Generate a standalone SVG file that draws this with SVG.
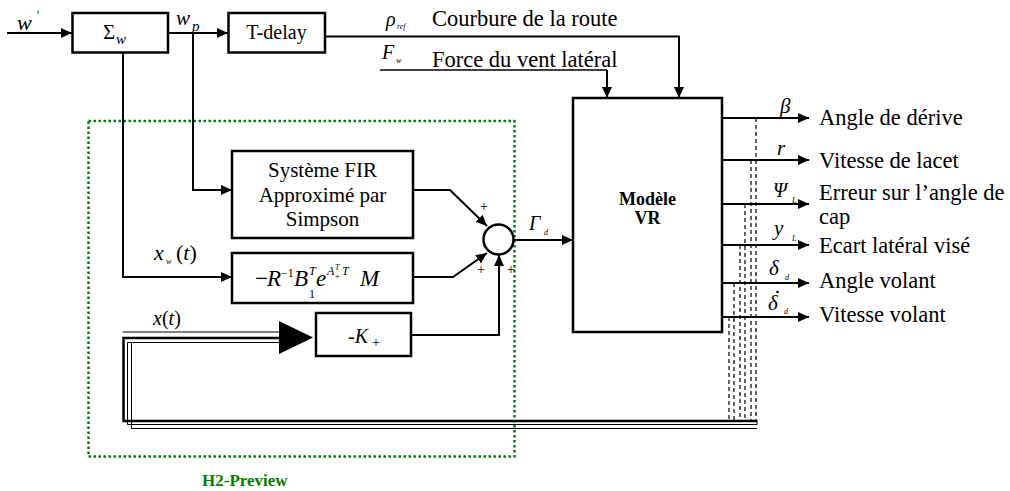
<svg xmlns="http://www.w3.org/2000/svg" width="1010" height="491" viewBox="0 0 1010 491">
<defs>
<marker id="ah" markerUnits="userSpaceOnUse" markerWidth="11" markerHeight="10" refX="11" refY="5" orient="auto"><path d="M0,0 L11,5 L0,10 z" fill="#000"/></marker>
<style>
text{font-family:"Liberation Serif","Times New Roman",serif;fill:#000}
.box{fill:#fff;stroke:#000;stroke-width:2.5}
.ln{fill:none;stroke:#000;stroke-width:2}
.ar{marker-end:url(#ah)}
.dash{fill:none;stroke:#000;stroke-width:1.2;stroke-dasharray:4 3}
.lbl{font-size:22.5px}
.it{font-style:italic}
.bt{font-size:21px;text-anchor:middle}
</style>
</defs>
<rect width="1010" height="491" fill="#fff"/>

<g id="preview-frame">
<rect x="88.5" y="121" width="426" height="335.5" fill="none" stroke="#008000" stroke-width="2.5" stroke-dasharray="2.5 2.5"/>
<text x="202" y="486" font-size="17" font-weight="bold" style="fill:#008000">H2-Preview</text>
</g>

<g id="connectors">
<path class="ln ar" d="M7 33 H72"/>
<path class="ln ar" d="M168 33 H228"/>
<path class="ln ar" d="M325 36.5 H679 V98"/>
<path fill="none" stroke="#000" stroke-width="1.3" d="M380 70 H607"/>
<path class="ln ar" d="M607 70 V98"/>
<path class="ln ar" d="M123 53 V277 H232"/>
<path class="ln ar" d="M193 33 V190 H232"/>
<path class="ln ar" d="M413 190 H450 L487 226"/>
<path class="ln ar" d="M413 277 H453 L487 253"/>
<path class="ln ar" d="M411 335 H499 V255"/>
<path class="ln ar" d="M513 240 H573"/>
<path class="ln ar" d="M722 118 H809"/>
<path class="ln ar" d="M722 160 H809"/>
<path class="ln ar" d="M722 204 H809"/>
<path class="ln ar" d="M722 245 H809"/>
<path class="ln ar" d="M722 283 H809"/>
<path class="ln ar" d="M722 317 H809"/>
<path class="dash" d="M756 118 V420"/>
<path class="dash" d="M751 160 V420"/>
<path class="dash" d="M745 204 V420"/>
<path class="dash" d="M740 245 V420"/>
<path class="dash" d="M734 283 V420"/>
<path class="dash" d="M729 317 V420"/>
<path fill="none" stroke="#000" stroke-width="2.5" d="M280 338 H123.5 V421 H757"/>
<path fill="none" stroke="#000" stroke-width="1" d="M280 332 H122.5"/>
<path fill="none" stroke="#000" stroke-width="1" d="M280 342.5 H127.5 V424.5 H757"/>
<path fill="none" stroke="#000" stroke-width="1" d="M131.5 342.5 V428.5 H757"/>
<path fill="none" stroke="#000" stroke-width="1" d="M757 420 V425"/>
<path d="M279 321 L313 337.5 L279 354 z" fill="#000"/>
</g>

<g id="sigma-w">
<rect class="box" x="72.5" y="13" width="95.5" height="39.5"/>
<text x="103" y="39" font-size="21">Σ</text>
<text x="116" y="44" font-size="15" class="it">w</text>
</g>

<g id="t-delay">
<rect class="box" x="228.5" y="13" width="96.5" height="39.5"/>
<text x="276.5" y="39" font-size="20" text-anchor="middle">T-delay</text>
</g>

<g id="fir">
<rect class="box" x="232" y="151" width="181" height="87"/>
<text class="bt" x="322.5" y="177">Système FIR</text>
<text class="bt" x="322.5" y="202">Approximé par</text>
<text class="bt" x="322.5" y="226">Simpson</text>
</g>

<g id="gain-m">
<rect class="box" x="232" y="253" width="181" height="50"/>
<text x="255" y="286" font-size="23">−</text>
<text x="267" y="286" font-size="23" class="it">R</text>
<text x="281" y="277" font-size="12">−1</text>
<text x="294" y="286" font-size="23" class="it">B</text>
<text x="309" y="275" font-size="12" class="it">T</text>
<text x="309" y="298" font-size="12">1</text>
<text x="316" y="286" font-size="23" class="it">e</text>
<text x="327" y="275" font-size="12" class="it">A</text>
<text x="335" y="270" font-size="8" class="it">T</text>
<text x="335" y="279" font-size="9">+</text>
<text x="342" y="275" font-size="12" class="it">T</text>
<text x="360" y="286" font-size="23" class="it">M</text>
</g>

<g id="gain-k">
<rect class="box" x="316" y="313" width="95" height="43"/>
<text x="348" y="343" font-size="20">-<tspan class="it">K</tspan></text>
<text x="372" y="347" font-size="14">+</text>
</g>

<g id="sum">
<circle cx="498.5" cy="239.5" r="15" fill="#fff" stroke="#000" stroke-width="2.5"/>
<text x="480" y="211" font-size="14">+</text>
<text x="477" y="274" font-size="14">+</text>
<text x="507" y="274" font-size="14">+</text>
</g>

<g id="modele-vr">
<rect class="box" x="573" y="98" width="149" height="234"/>
<text x="647.5" y="205" font-size="18" font-weight="bold" text-anchor="middle">Modèle</text>
<text x="647.5" y="224" font-size="18" font-weight="bold" text-anchor="middle">VR</text>
</g>

<g id="labels">
<text x="17" y="30" font-size="22" class="it">w</text>
<text x="36" y="19" font-size="12" class="it">'</text>
<text x="176" y="25" font-size="21" class="it">w</text>
<text x="192" y="31" font-size="15" class="it">p</text>
<text x="386" y="26" font-size="20" class="it">ρ</text>
<text x="397" y="29" font-size="8" class="it">ref</text>
<text class="lbl" x="432" y="26">Courbure de la route</text>
<text x="382" y="59" font-size="20" class="it">F</text>
<text x="396" y="63" font-size="8" class="it">w</text>
<text class="lbl" x="432" y="67">Force du vent latéral</text>
<text x="154" y="260" font-size="22" class="it">x</text>
<text x="166" y="264" font-size="8" class="it">w</text>
<text x="176" y="260" font-size="22">(<tspan class="it">t</tspan>)</text>
<text x="153" y="325" font-size="20"><tspan class="it">x</tspan>(<tspan class="it">t</tspan>)</text>
<text x="529" y="230" font-size="20" class="it">Γ</text>
<text x="544" y="235" font-size="8" class="it">d</text>
<text x="780" y="113" font-size="21" class="it">β</text>
<text x="777" y="155" font-size="21" class="it">r</text>
<text x="773" y="197" font-size="20" class="it">Ψ</text>
<text x="792" y="203" font-size="8" class="it">L</text>
<text x="774" y="235" font-size="21" class="it">y</text>
<text x="792" y="241" font-size="8" class="it">L</text>
<text x="769" y="275" font-size="21" class="it">δ</text>
<text x="785" y="280" font-size="8" class="it">d</text>
<text x="768" y="310" font-size="21" class="it">δ</text>
<circle cx="777.5" cy="292" r="1.3" fill="#000"/>
<text x="784" y="314" font-size="8" class="it">d</text>
<text class="lbl" x="819" y="125">Angle de dérive</text>
<text class="lbl" x="819" y="168">Vitesse de lacet</text>
<text class="lbl" x="819" y="200">Erreur sur l’angle de</text>
<text class="lbl" x="819" y="224">cap</text>
<text class="lbl" x="819" y="253">Ecart latéral visé</text>
<text class="lbl" x="819" y="288">Angle volant</text>
<text class="lbl" x="819" y="322">Vitesse volant</text>
</g>
</svg>
